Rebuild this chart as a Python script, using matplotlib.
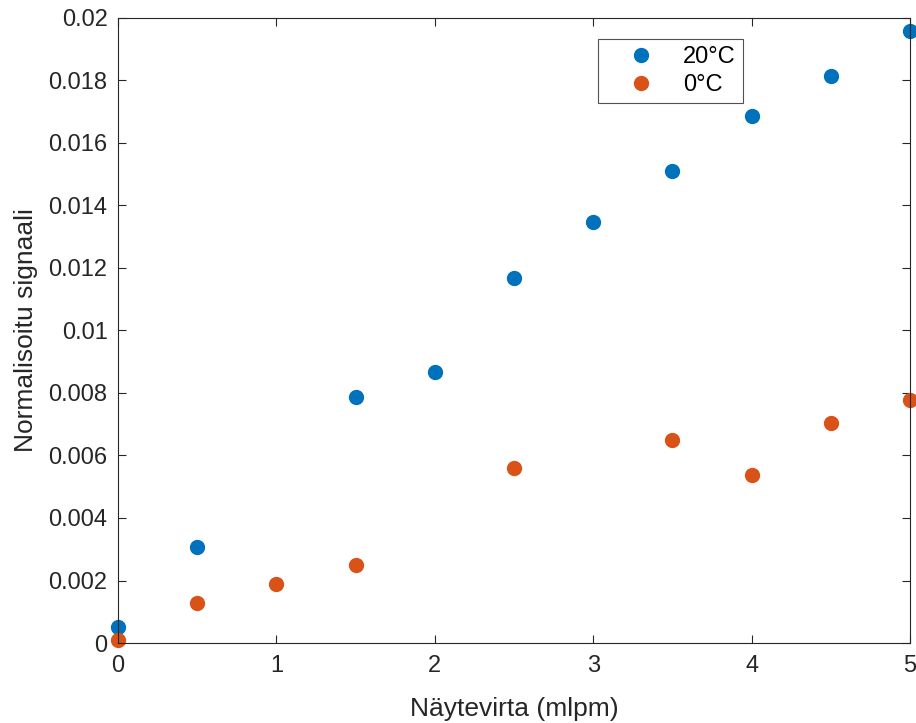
import matplotlib
matplotlib.use("Agg")
import matplotlib.pyplot as plt

plt.rcParams['font.family'] = ['Liberation Sans', 'DejaVu Sans']

x_20 = [0, 0.5, 1.5, 2, 2.5, 3, 3.5, 4, 4.5, 5]
y_20 = [0.00051, 0.00307, 0.00787, 0.00867, 0.01168, 0.01347, 0.0151, 0.01686, 0.01814, 0.01958]
x_0 = [0, 0.5, 1, 1.5, 2.5, 3.5, 4, 4.5, 5]
y_0 = [0.0001, 0.00128, 0.00189, 0.0025, 0.0056, 0.0065, 0.00536, 0.00704, 0.00778]
x_ticks = [0, 1, 2, 3, 4, 5]
y_ticks = [0, 0.002, 0.004, 0.006, 0.008, 0.01, 0.012, 0.014, 0.016, 0.018, 0.02]
y_ticklabels = ['0', '0.002', '0.004', '0.006', '0.008', '0.01', '0.012', '0.014', '0.016', '0.018', '0.02']

fig = plt.figure(figsize=(9.16, 7.23), dpi=100)
ax = fig.add_axes([118/916, 80/723, 792/916, 625/723])
ax.plot(x_20, y_20, 'o', color='#0072BD', markersize=10, label='20°C', clip_on=False)
ax.plot(x_0, y_0, 'o', color='#D95319', markersize=10, label='0°C', clip_on=False)
ax.set_xlim(0, 5)
ax.set_ylim(0, 0.02)
ax.set_xticks(x_ticks)
ax.set_yticks(y_ticks)
ax.set_yticklabels(y_ticklabels)
ax.tick_params(direction='in', top=True, right=True, labelsize=17, colors='#262626', length=6, width=0.8)
ax.tick_params(axis='x', pad=9)
ax.tick_params(axis='y', pad=7.5)
for s in ax.spines.values():
    s.set_color('#262626')
    s.set_linewidth(0.8)
ax.set_xlabel('Näytevirta (mlpm)', fontsize=19, color='#262626')
ax.set_ylabel('Normalisoitu signaali', fontsize=19, color='#262626')
ax.xaxis.set_label_coords(0.5, (643 - 697) / 625)
ax.yaxis.set_label_coords((38 - 118) / 792, 0.5)
leg = ax.legend(loc='upper left', bbox_to_anchor=(598/916, 1 - 39/723), bbox_transform=fig.transFigure,
                fontsize=17, frameon=True, fancybox=False, edgecolor='#262626', handletextpad=0.3,
                borderpad=0.3, labelspacing=0.25, markerfirst=True, handlelength=3.0, borderaxespad=0)
leg.get_frame().set_linewidth(0.8)
fig.savefig('out.png', dpi=100)
